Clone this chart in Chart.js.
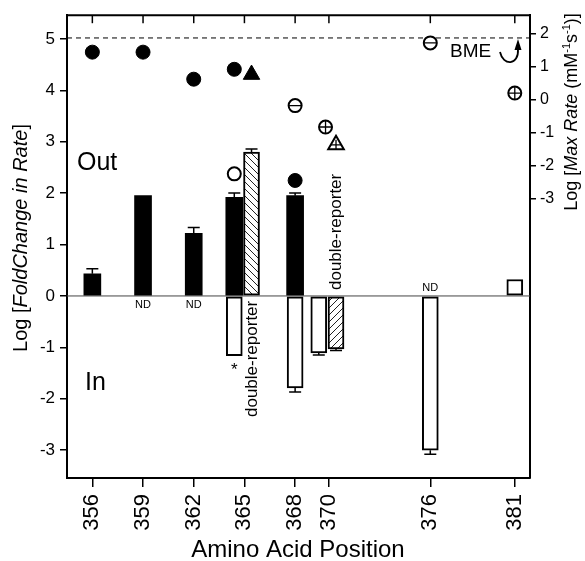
<!DOCTYPE html>
<html>
<head>
<meta charset="utf-8">
<script src="https://cdn.jsdelivr.net/npm/chart.js@4.4.0/dist/chart.umd.min.js"></script>
<style>
  html, body { margin: 0; padding: 0; background: #fff; }
  #wrap { width: 585px; height: 561px; }
</style>
</head>
<body>
<div id="wrap"><canvas id="chart" width="585" height="561"></canvas></div>
<script>
// x axis: amino acid positions
const positions = [356, 359, 362, 365, 368, 370, 376, 381];
const leftTicks = [-3, -2, -1, 0, 1, 2, 3, 4, 5];
const rightTicks = [-3, -2, -1, 0, 1, 2];

// Log fold change, single reporter, Out (filled bars)
const outPos = [356, 359, 362, 365, 368];
const outVal = [0.43, 1.95, 1.22, 1.92, 1.95];
const outErr = [0.53, 1.95, 1.33, 2.0, 2.0];

// Log fold change, single reporter, In (open bars)
const inPos = [365, 368, 370, 376];
const inVal = [-1.16, -1.79, -1.11, -3.0];
const inErr = [-1.16, -1.87, -1.15, -3.08];

// open square at 381
const squarePos = [381];
const squareVal = [0.32];

// double-reporter bars (hatched)
const dblPos = [365, 370];
const dblVal = [2.80, -1.03];
const dblErr = [2.86, -1.06];

// Log max rate, right axis
const filledCirclePos = [356, 359, 362, 365, 368];
const filledCircleVal = [1.43, 1.43, 0.61, 0.91, -2.46];
const openCirclePos = [365];
const openCircleVal = [-2.26];
const barredCirclePos = [368, 376];
const barredCircleVal = [-0.19, 1.71];
const crossedCirclePos = [370, 381];
const crossedCircleVal = [-0.84, 0.19];
const filledTrianglePos = [365];
const filledTriangleVal = [0.75];
const crossedTrianglePos = [370];
const crossedTriangleVal = [-1.38];
const bmeRate = 1.86;

const ndPos = [359, 362, 376];

const FONT = '"Liberation Sans", Arial, Helvetica, sans-serif';

// single reporter sits left of the tick where a double-reporter exists
const shift = (p, d) => dblPos.includes(p) ? d : 0;
const pts = (pos, val, d) => pos.map((p, i) => ({ x: p + shift(p, d), y: val[i] }));

const mainCtx = document.getElementById('chart').getContext('2d');
function hatch(dir) {
  const n = 7;
  const c = document.createElement('canvas');
  c.width = c.height = n;
  const g = c.getContext('2d');
  g.fillStyle = '#fff';
  g.fillRect(0, 0, n, n);
  g.strokeStyle = '#222';
  g.lineWidth = 1;
  g.beginPath();
  if (dir > 0) {
    g.moveTo(0, n); g.lineTo(n, 0);
    g.moveTo(-1, 1); g.lineTo(1, -1);
    g.moveTo(n - 1, n + 1); g.lineTo(n + 1, n - 1);
  } else {
    g.moveTo(0, 0); g.lineTo(n, n);
    g.moveTo(-1, n - 1); g.lineTo(1, n + 1);
    g.moveTo(n - 1, -1); g.lineTo(n + 1, 1);
  }
  g.stroke();
  return mainCtx.createPattern(c, 'repeat');
}

function richText(ctx, parts, cx, cy, size, angle) {
  ctx.save();
  ctx.translate(cx, cy);
  ctx.rotate(angle);
  const fontOf = p => (p.it ? 'italic ' : '') + (p.sup ? Math.round(size * 0.6) : size) + 'px ' + FONT;
  let total = 0;
  parts.forEach(p => { ctx.font = fontOf(p); total += ctx.measureText(p.t).width; });
  let xx = -total / 2;
  ctx.textAlign = 'left';
  ctx.textBaseline = 'alphabetic';
  ctx.fillStyle = '#000';
  parts.forEach(p => {
    ctx.font = fontOf(p);
    ctx.fillText(p.t, xx, p.sup ? size * 0.35 - size * 0.42 : size * 0.35);
    xx += ctx.measureText(p.t).width;
  });
  ctx.restore();
}

const errSets = [
  { pos: outPos, val: outVal, err: outErr, d: -0.6 },
  { pos: inPos, val: inVal, err: inErr, d: -0.6 },
  { pos: dblPos, val: dblVal, err: dblErr, d: 0.42 }
];

const extras = {
  id: 'extras',
  beforeDatasetsDraw(chart) {
    const { ctx, chartArea: a, scales: { y, y2 } } = chart;
    ctx.save();
    const y0 = y.getPixelForValue(0);
    ctx.strokeStyle = '#444';
    ctx.lineWidth = 1;
    ctx.beginPath();
    ctx.moveTo(a.left, y0); ctx.lineTo(a.right, y0);
    ctx.stroke();
    const yb = y2.getPixelForValue(bmeRate);
    ctx.strokeStyle = '#000';
    ctx.setLineDash([5, 4]);
    ctx.beginPath();
    ctx.moveTo(a.left, yb); ctx.lineTo(a.right, yb);
    ctx.stroke();
    ctx.restore();
  },
  afterDatasetsDraw(chart) {
    const { ctx, scales: { x, y } } = chart;
    ctx.save();
    ctx.strokeStyle = '#000';
    ctx.lineWidth = 1.5;
    errSets.forEach(s => {
      s.pos.forEach((p, i) => {
        if (s.err[i] === s.val[i]) return;
        const px = x.getPixelForValue(p + shift(p, s.d));
        const pv = y.getPixelForValue(s.val[i]);
        const pe = y.getPixelForValue(s.err[i]);
        ctx.beginPath();
        ctx.moveTo(px, pv); ctx.lineTo(px, pe);
        ctx.moveTo(px - 6, pe); ctx.lineTo(px + 6, pe);
        ctx.stroke();
      });
    });
    ctx.restore();
  },
  afterDraw(chart) {
    const { ctx, chartArea: a, scales: { x, y, y2 } } = chart;
    ctx.save();
    // top frame with inward ticks
    ctx.strokeStyle = '#000';
    ctx.lineWidth = 2;
    ctx.beginPath();
    ctx.moveTo(a.left - 1, a.top); ctx.lineTo(a.right + 1, a.top);
    ctx.stroke();
    ctx.lineWidth = 1.5;
    positions.forEach(p => {
      const px = x.getPixelForValue(p);
      ctx.beginPath();
      ctx.moveTo(px, a.top); ctx.lineTo(px, a.top + 8);
      ctx.stroke();
    });

    ctx.fillStyle = '#000';
    ctx.textBaseline = 'alphabetic';
    ctx.textAlign = 'left';
    ctx.font = '25px ' + FONT;
    ctx.fillText('Out', a.left + 10, 170);
    ctx.fillText('In', a.left + 18, 390);

    ctx.font = '11px ' + FONT;
    ctx.textAlign = 'center';
    ndPos.forEach(p => {
      const px = x.getPixelForValue(p);
      const inside = inPos.includes(p);
      ctx.fillText('ND', px, inside ? y.getPixelForValue(0) - 5 : y.getPixelForValue(0) + 12);
    });

    ctx.font = '17px ' + FONT;
    ctx.textBaseline = 'top';
    ctx.fillText('*', x.getPixelForValue(365 - 0.6), y.getPixelForValue(inVal[0]) + 6);

    // double-reporter labels
    ctx.textBaseline = 'middle';
    ctx.textAlign = 'left';
    const dr = [[365, 417], [370, 290]];
    dr.forEach(([p, yy]) => {
      ctx.save();
      ctx.translate(x.getPixelForValue(p) + 7.5, yy);
      ctx.rotate(-Math.PI / 2);
      ctx.font = '17px ' + FONT;
      ctx.fillText('double-reporter', 0, 0);
      ctx.restore();
    });

    // BME with curved arrow
    ctx.font = '19px ' + FONT;
    ctx.textBaseline = 'alphabetic';
    ctx.fillText('BME', 450, 57);
    const yb = y2.getPixelForValue(bmeRate);
    ctx.lineWidth = 1.8;
    ctx.beginPath();
    ctx.moveTo(500, 52);
    ctx.bezierCurveTo(503, 66, 519, 66, 518, yb + 11);
    ctx.stroke();
    ctx.beginPath();
    ctx.moveTo(518, yb + 1);
    ctx.lineTo(514.5, yb + 12);
    ctx.lineTo(521.5, yb + 12);
    ctx.closePath();
    ctx.fill();

    // axis titles
    richText(ctx, [{ t: 'Log [' }, { t: 'FoldChange in Rate', it: true }, { t: ']' }], 20, 238, 20, -Math.PI / 2);
    richText(ctx, [{ t: 'Log [' }, { t: 'Max Rate', it: true }, { t: ' (mM' }, { t: '-1', sup: true },
      { t: 's' }, { t: '-1', sup: true }, { t: ')]' }], 571, 112, 18, -Math.PI / 2);
    richText(ctx, [{ t: 'Amino Acid Position' }], 298, 549, 24, 0);
    ctx.restore();
  }
};

const tickFont = size => ({ size: size, family: FONT });

new Chart(document.getElementById('chart'), {
  type: 'bar',
  data: {
    datasets: [
      { type: 'scatter', order: 0, yAxisID: 'y2', data: pts(barredCirclePos, barredCircleVal, 0),
        pointStyle: 'line', pointRadius: 6, borderColor: '#000', pointBorderWidth: 1.3 },
      { type: 'scatter', order: 0, yAxisID: 'y2', data: pts(crossedCirclePos, crossedCircleVal, -0.2),
        pointStyle: 'cross', pointRadius: 6, borderColor: '#000', pointBorderWidth: 1.3 },
      { type: 'scatter', order: 0, yAxisID: 'y2', data: pts(crossedTrianglePos, crossedTriangleVal, 0.42),
        pointStyle: 'cross', pointRadius: 5, borderColor: '#000', pointBorderWidth: 1.3 },
      { type: 'scatter', order: 1, yAxisID: 'y2', data: pts(filledCirclePos, filledCircleVal, -0.6),
        pointStyle: 'circle', pointRadius: 7, backgroundColor: '#000', borderColor: '#000', pointBorderWidth: 1 },
      { type: 'scatter', order: 1, yAxisID: 'y2', data: pts(openCirclePos, openCircleVal, -0.6),
        pointStyle: 'circle', pointRadius: 6.5, backgroundColor: '#fff', borderColor: '#000', pointBorderWidth: 2 },
      { type: 'scatter', order: 1, yAxisID: 'y2',
        data: pts(barredCirclePos, barredCircleVal, 0).concat(pts(crossedCirclePos, crossedCircleVal, -0.2)),
        pointStyle: 'circle', pointRadius: 6.5, backgroundColor: '#fff', borderColor: '#000', pointBorderWidth: 2 },
      { type: 'scatter', order: 1, yAxisID: 'y2', data: pts(filledTrianglePos, filledTriangleVal, 0.42),
        pointStyle: 'triangle', pointRadius: 9.5, backgroundColor: '#000', borderColor: '#000', pointBorderWidth: 1 },
      { type: 'scatter', order: 1, yAxisID: 'y2', data: pts(crossedTrianglePos, crossedTriangleVal, 0.42),
        pointStyle: 'triangle', pointRadius: 9, backgroundColor: '#fff', borderColor: '#000', pointBorderWidth: 2 },
      { order: 2, yAxisID: 'y', grouped: false, data: pts(outPos, outVal, -0.6),
        backgroundColor: '#000', borderColor: '#000', borderWidth: 0, barThickness: 17 },
      { order: 2, yAxisID: 'y', grouped: false, data: pts(inPos, inVal, -0.6),
        backgroundColor: '#fff', borderColor: '#000', borderWidth: 2, borderSkipped: false, barThickness: 16 },
      { order: 2, yAxisID: 'y', grouped: false, data: pts(squarePos, squareVal, 0),
        backgroundColor: '#fff', borderColor: '#000', borderWidth: 2, borderSkipped: false, barThickness: 16 },
      { order: 2, yAxisID: 'y', grouped: false, data: pts(dblPos, dblVal, 0.42),
        backgroundColor: [hatch(-1), hatch(1)], borderColor: '#000', borderWidth: 2, borderSkipped: false, barThickness: 16 }
    ]
  },
  options: {
    responsive: false,
    animation: false,
    events: [],
    layout: { padding: { top: 10, left: 0, right: 0, bottom: 0 } },
    plugins: { legend: { display: false }, tooltip: { enabled: false } },
    scales: {
      x: {
        type: 'linear', min: 354.5, max: 381.9, offset: false,
        afterBuildTicks: s => { s.ticks = positions.map(v => ({ value: v })); },
        afterFit: s => { s.height = 83; },
        grid: { display: true, drawOnChartArea: false, tickLength: 9, color: '#000', lineWidth: 1.5, offset: false },
        border: { display: true, color: '#000', width: 2 },
        ticks: { autoSkip: false, minRotation: 90, maxRotation: 90, padding: 7, color: '#000',
          font: tickFont(22), callback: v => String(v) }
      },
      y: {
        type: 'linear', position: 'left', min: -3.54, max: 5.46,
        afterBuildTicks: s => { s.ticks = leftTicks.map(v => ({ value: v })); },
        afterFit: s => { s.width = 67; },
        grid: { display: true, drawOnChartArea: false, tickLength: 7, color: '#000', lineWidth: 1.5 },
        border: { display: true, color: '#000', width: 2 },
        ticks: { padding: 5, color: '#000', font: tickFont(17), callback: v => String(v) }
      },
      y2: {
        type: 'linear', position: 'right', min: -11.48, max: 2.55,
        afterBuildTicks: s => { s.ticks = rightTicks.map(v => ({ value: v })); },
        afterFit: s => { s.width = 55; },
        grid: { display: true, drawOnChartArea: false, tickLength: 6, color: '#000', lineWidth: 1.5 },
        border: { display: true, color: '#000', width: 2 },
        ticks: { padding: 4, color: '#000', font: tickFont(16), callback: v => String(v) }
      }
    }
  },
  plugins: [extras]
});
</script>
</body>
</html>
